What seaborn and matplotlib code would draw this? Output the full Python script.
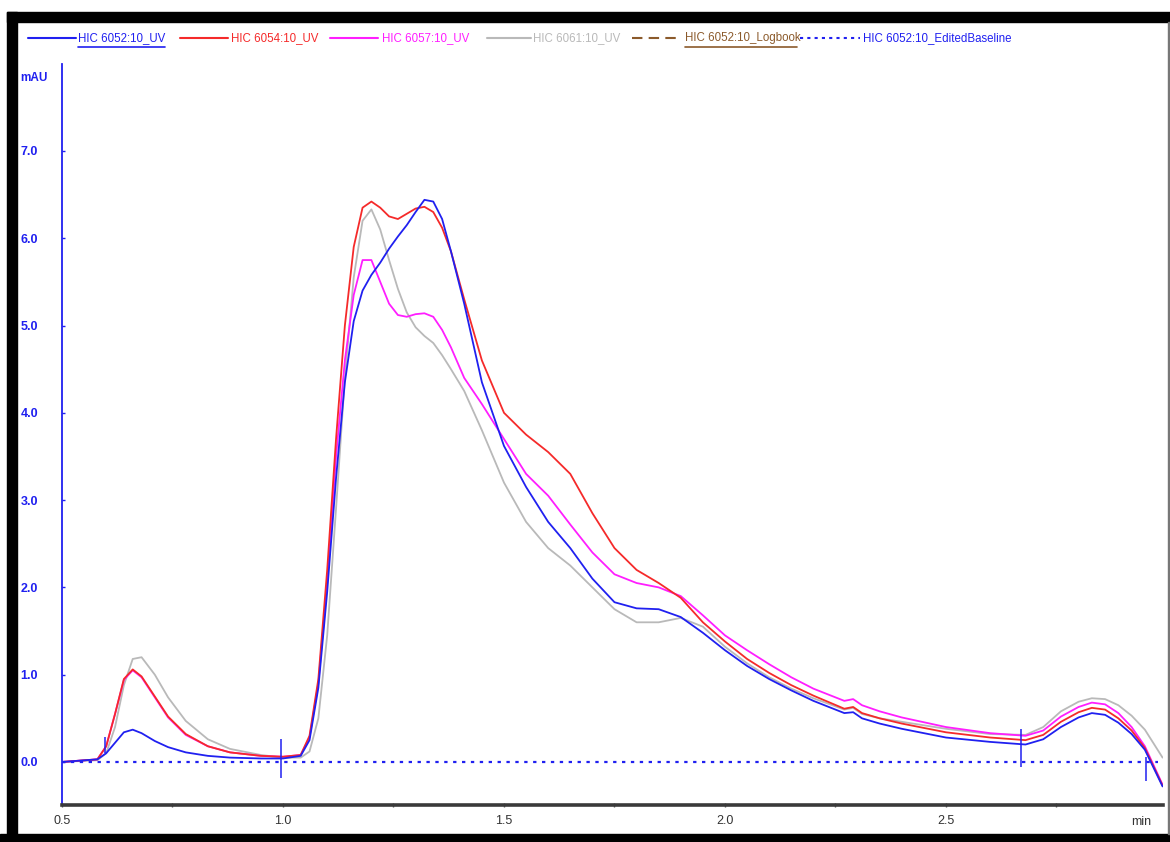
import numpy as np
import pandas as pd
import matplotlib
matplotlib.use("Agg")
import matplotlib.pyplot as plt
from matplotlib.lines import Line2D
from matplotlib.patches import Rectangle
import seaborn as sns

# ---------------- data ----------------
time_min = [0.50, 0.58, 0.60, 0.62, 0.64, 0.66, 0.68, 0.71, 0.74, 0.78, 0.83, 0.88,
            0.95, 1.00, 1.04, 1.06, 1.08, 1.10, 1.12, 1.14, 1.16, 1.18, 1.20, 1.22,
            1.24, 1.26, 1.28, 1.30, 1.32, 1.34, 1.36, 1.38, 1.41, 1.45, 1.50, 1.55,
            1.60, 1.65, 1.70, 1.75, 1.80, 1.85, 1.90, 1.95, 2.00, 2.05, 2.10, 2.15,
            2.20, 2.27, 2.29, 2.31, 2.35, 2.40, 2.50, 2.60, 2.68, 2.72, 2.76, 2.80,
            2.83, 2.86, 2.89, 2.92, 2.95, 2.99]

hic6052_uv = [0.00, 0.03, 0.10, 0.22, 0.34, 0.37, 0.33, 0.24, 0.17, 0.11, 0.07, 0.05,
              0.04, 0.04, 0.07, 0.25, 0.85, 1.95, 3.25, 4.35, 5.05, 5.40, 5.58, 5.72,
              5.88, 6.02, 6.15, 6.30, 6.44, 6.42, 6.22, 5.85, 5.25, 4.35, 3.62, 3.15,
              2.75, 2.45, 2.10, 1.83, 1.76, 1.75, 1.66, 1.48, 1.28, 1.10, 0.95, 0.82,
              0.70, 0.56, 0.57, 0.50, 0.44, 0.38, 0.28, 0.23, 0.20, 0.26, 0.40, 0.51,
              0.56, 0.54, 0.45, 0.32, 0.14, -0.28]

hic6054_uv = [0.00, 0.03, 0.18, 0.55, 0.95, 1.06, 0.98, 0.75, 0.52, 0.32, 0.18, 0.11,
              0.07, 0.06, 0.08, 0.30, 0.95, 2.20, 3.70, 5.00, 5.90, 6.35, 6.42, 6.35,
              6.25, 6.22, 6.28, 6.34, 6.36, 6.30, 6.12, 5.85, 5.30, 4.60, 4.00, 3.75,
              3.55, 3.30, 2.85, 2.45, 2.20, 2.05, 1.88, 1.60, 1.38, 1.18, 1.02, 0.88,
              0.76, 0.61, 0.63, 0.56, 0.50, 0.44, 0.34, 0.28, 0.25, 0.31, 0.46, 0.57,
              0.62, 0.60, 0.50, 0.36, 0.16, -0.27]

hic6057_uv = [0.00, 0.03, 0.18, 0.55, 0.94, 1.05, 0.97, 0.74, 0.51, 0.31, 0.18, 0.11,
              0.07, 0.06, 0.08, 0.28, 0.90, 2.05, 3.50, 4.60, 5.35, 5.75, 5.75, 5.50,
              5.25, 5.12, 5.10, 5.13, 5.14, 5.10, 4.95, 4.75, 4.40, 4.10, 3.70, 3.30,
              3.05, 2.72, 2.40, 2.15, 2.05, 2.00, 1.90, 1.68, 1.45, 1.28, 1.12, 0.97,
              0.84, 0.70, 0.72, 0.65, 0.58, 0.51, 0.40, 0.33, 0.30, 0.36, 0.52, 0.63,
              0.68, 0.66, 0.56, 0.40, 0.18, -0.26]

hic6061_uv = [0.00, 0.02, 0.10, 0.40, 0.88, 1.18, 1.20, 1.00, 0.74, 0.47, 0.26, 0.15,
              0.08, 0.05, 0.05, 0.12, 0.50, 1.45, 2.90, 4.40, 5.55, 6.20, 6.33, 6.10,
              5.75, 5.42, 5.15, 4.98, 4.88, 4.80, 4.66, 4.50, 4.25, 3.80, 3.20, 2.75,
              2.45, 2.25, 2.00, 1.75, 1.60, 1.60, 1.65, 1.55, 1.32, 1.13, 0.97, 0.84,
              0.73, 0.60, 0.62, 0.55, 0.50, 0.46, 0.38, 0.32, 0.31, 0.40, 0.58, 0.69,
              0.73, 0.72, 0.65, 0.53, 0.37, 0.05]

baseline_t = [0.50, 2.98]
baseline_v = [0.0, 0.0]

marker_t = [0.597, 0.995, 2.670, 2.953]
marker_lo = [0.10, -0.18, -0.06, -0.22]
marker_hi = [0.29, 0.26, 0.38, 0.06]

series_names = ["HIC 6052:10_UV", "HIC 6054:10_UV", "HIC 6057:10_UV", "HIC 6061:10_UV"]
legend_labels = ["HIC 6052:10_UV", "HIC 6054:10_UV", "HIC 6057:10_UV", "HIC 6061:10_UV",
                 "HIC 6052:10_Logbook", "HIC 6052:10_EditedBaseline"]
y_ticks = [0.0, 1.0, 2.0, 3.0, 4.0, 5.0, 6.0, 7.0]
x_ticks = [0.5, 1.0, 1.5, 2.0, 2.5]

# ---------------- styling ----------------
BLUE = "#2020F0"
RED = "#F52A2A"
MAGENTA = "#FF1EFF"
GRAY = "#B9B9B9"
BROWN = "#8B5A2B"
palette = {series_names[0]: BLUE, series_names[1]: RED,
           series_names[2]: MAGENTA, series_names[3]: GRAY}

sns.set_theme(style="white")
plt.rcParams["font.family"] = ["Liberation Sans", "DejaVu Sans"]

W, H = 1170, 842
fig = plt.figure(figsize=(W / 100, H / 100), dpi=100)
fig.patch.set_facecolor("white")

def fx(px):
    return px / W

def fy(py):
    return 1 - py / H

ax = fig.add_axes([fx(62), fy(805), fx(1163) - fx(62), fy(64) - fy(805)])
ax.set_facecolor("white")

frames = []
for name, vals in zip(series_names, [hic6052_uv, hic6054_uv, hic6057_uv, hic6061_uv]):
    frames.append(pd.DataFrame({"time": time_min, "mAU": vals, "sample": name}))
df = pd.concat(frames, ignore_index=True)

order = [series_names[3], series_names[2], series_names[1], series_names[0]]
for name in order:
    sub = df[df["sample"] == name]
    sns.lineplot(data=sub, x="time", y="mAU", color=palette[name], linewidth=1.3,
                 sort=False, estimator=None, ax=ax, legend=False)

ax.plot(baseline_t, baseline_v, color=BLUE, linestyle=(0, (1.5, 2.5)), linewidth=1.6)
ax.vlines(marker_t, marker_lo, marker_hi, color=BLUE, linewidth=1.1)

ax.set_xlim(0.5, 2.991)
ax.set_ylim(-0.493, 7.996)
ax.set_xlabel("")
ax.set_ylabel("")

for s in ["top", "right"]:
    ax.spines[s].set_visible(False)
ax.spines["left"].set_color(BLUE)
ax.spines["left"].set_linewidth(1.3)
ax.spines["bottom"].set_color("#3a3a3a")
ax.spines["bottom"].set_linewidth(2.6)

ax.set_yticks(y_ticks)
ax.set_yticklabels([f"{v:.1f}" for v in y_ticks])
ax.tick_params(axis="y", colors=BLUE, labelsize=9, length=2, width=1, direction="in",
               pad=30, left=True)
for lbl in ax.get_yticklabels():
    lbl.set_fontweight("bold")
    lbl.set_horizontalalignment("left")
ax.set_xticks(x_ticks)
ax.set_xticklabels([f"{v:.1f}" for v in x_ticks])
ax.set_xticks([0.75, 1.25, 1.75, 2.25, 2.75], minor=True)
ax.tick_params(axis="x", which="both", colors="#555555", labelcolor="#333333",
               labelsize=9, length=3, width=1, direction="inout", pad=6, bottom=True)
ax.grid(False)

fig.text(fx(20), fy(78), "mAU", color=BLUE, fontsize=8.5, ha="left", va="center",
         fontweight="bold")
fig.text(fx(1131), fy(822), "min", color="#333333", fontsize=9, ha="left", va="center")

# ---------------- custom legend row ----------------
leg_y = fy(38)
line_specs = [
    (28, 76, BLUE, "-"), (180, 228, RED, "-"), (330, 378, MAGENTA, "-"),
    (487, 531, GRAY, "-"), (632, 680, BROWN, (0, (5, 3))), (800, 860, BLUE, (0, (1.5, 2)))]
text_x = [78, 231, 382, 533, 685, 863]
text_colors = [BLUE, RED, MAGENTA, GRAY, BROWN, BLUE]
for (x0, x1, c, ls), tx, tc, lab in zip(line_specs, text_x, text_colors, legend_labels):
    fig.add_artist(Line2D([fx(x0), fx(x1)], [leg_y, leg_y], color=c, linestyle=ls,
                          linewidth=1.5, transform=fig.transFigure))
    fig.text(fx(tx), leg_y, lab, color=tc, fontsize=8.3, ha="left", va="center")
fig.add_artist(Line2D([fx(78), fx(165)], [fy(47), fy(47)], color=BLUE, linewidth=1.2,
                      transform=fig.transFigure))
fig.add_artist(Line2D([fx(685), fx(797)], [fy(47), fy(47)], color=BROWN, linewidth=1.2,
                      transform=fig.transFigure))

# ---------------- frame ----------------
def rect(x0, y0, x1, y1, color):
    fig.add_artist(Rectangle((fx(x0), fy(y1)), fx(x1) - fx(x0), fy(y0) - fy(y1),
                             transform=fig.transFigure, color=color, zorder=10))

rect(7, 12, 17, 842, "black")
rect(7, 12, 1170, 22, "black")
rect(0, 834, 1170, 842, "black")
rect(1168, 22, 1170, 834, "#777777")

fig.savefig("out.png", dpi=100, facecolor="white")
